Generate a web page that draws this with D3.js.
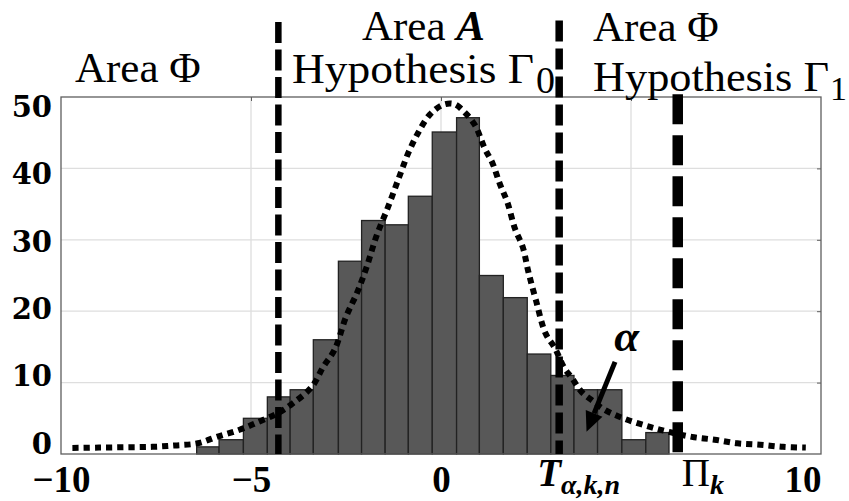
<!doctype html>
<html lang="en">
<head>
  <meta charset="utf-8">
  <title>Histogram with hypothesis areas</title>
  <style>
    body { margin:0; background:#fff; }
    svg text { font-family:"Liberation Serif", serif; fill:#000; }
    .ylab text { font-family:"DejaVu Serif", serif; font-weight:bold; font-size:29px; }
    .xlab text { font-family:"Liberation Serif", serif; font-weight:bold; font-size:37px; }
    .area { font-size:43px; }
  </style>
</head>
<body>
<svg id="chart" width="849" height="501"></svg>

<script src="https://cdn.jsdelivr.net/npm/d3@7"></script>
<script>
// histogram
var binEdges = [-6.43, -5.84, -5.2, -4.57, -3.97, -3.36, -2.70, -2.09, -1.47, -0.86, -0.23,
                0.41, 1.01, 1.64, 2.27, 2.89, 3.5, 4.12, 4.76, 5.39, 6.0];
var counts = [1, 2, 5, 8, 9, 16, 27, 32.7, 32.1, 36.1, 45.1, 47.1, 25, 21.9, 14, 11, 9, 9, 2, 3];

// fitted density (dotted)
var curveX = [-9.7, -9.0, -8.3, -7.6, -7.0, -6.4, -5.9, -5.3, -4.8, -4.3, -3.9, -3.4, -3.1, -2.8,
              -2.5, -2.2, -1.95, -1.7, -1.4, -1.1, -0.85, -0.6, -0.3, 0.05, 0.35, 0.65, 0.9, 1.15,
              1.35, 1.55, 1.75, 1.95, 2.15, 2.3, 2.5, 2.75, 3.0, 3.25, 3.45, 3.7, 4.0, 4.3, 4.9,
              5.5, 6.0, 6.6, 7.2, 7.8, 8.4, 9.0, 9.6];
var curveY = [0.85, 0.9, 0.95, 1.0, 1.2, 1.5, 2.4, 3.4, 4.5, 5.7, 7.1, 9.4, 12.2, 14.6,
              19.2, 22.7, 26.3, 30.5, 34.5, 38.8, 42.3, 45.0, 47.5, 48.9, 49.0, 47.7, 46.0, 42.8,
              40.8, 37.8, 35.2, 31.5, 29.0, 25.5, 21.5, 16.9, 14.8, 12.0, 10.6, 8.7, 7.4, 6.2, 4.8,
              3.8, 3.1, 2.4, 2.0, 1.5, 1.3, 1.0, 0.9];

// vertical threshold lines: x position and top (in y units)
var vlineX = [-4.28, 3.11, 6.23];
var vlineTop = [60.5, 60.7, 50.4];

// alpha arrow: from (x,y) to (x,y)
var arrowFrom = [4.58, 12.9];
var arrowTo = [3.83, 3.1];
var alphaAt = [4.89, 14.4];

var xTicks = [-10, -5, 0, 10];
var yTicks = [0, 10, 20, 30, 40, 50];
var xGrid = [-5, 0, 5];
var yGrid = [10, 20, 30, 40];

var svg = d3.select("#chart");

var x = d3.scaleLinear().domain([-10, 10]).range([61, 821]);
var y = d3.scaleLinear().domain([0, 50]).range([454, 97]);
// the tick labels in the figure sit on a slightly tighter spacing than the grid
var yLab = d3.scaleLinear().domain([0, 50]).range([444, 107]);

// grid
svg.append("g").selectAll("line").data(xGrid).enter().append("line")
  .attr("x1", d => x(d)).attr("x2", d => x(d))
  .attr("y1", y(0)).attr("y2", y(50))
  .attr("stroke", "#dedede").attr("stroke-width", 1.3);
svg.append("g").selectAll("line").data(yGrid).enter().append("line")
  .attr("x1", x(-10)).attr("x2", x(10))
  .attr("y1", d => y(d)).attr("y2", d => y(d))
  .attr("stroke", "#dedede").attr("stroke-width", 1.3);

// bars
svg.append("g").selectAll("rect").data(counts).enter().append("rect")
  .attr("x", (d, i) => x(binEdges[i]))
  .attr("width", (d, i) => x(binEdges[i + 1]) - x(binEdges[i]))
  .attr("y", d => y(d))
  .attr("height", d => y(0) - y(d))
  .attr("fill", "#585858")
  .attr("stroke", "#222").attr("stroke-width", 1.3);

// axes box + inner ticks
svg.append("rect")
  .attr("x", x(-10)).attr("y", y(50))
  .attr("width", x(10) - x(-10)).attr("height", y(0) - y(50))
  .attr("fill", "none").attr("stroke", "#5e5e5e").attr("stroke-width", 1.3);
svg.append("g").attr("transform", "translate(0," + y(50) + ")")
  .call(d3.axisTop(x).tickValues(xGrid).tickSize(-4).tickFormat(""))
  .call(g => g.select(".domain").remove())
  .selectAll("line").attr("stroke", "#5e5e5e");
svg.append("g").attr("transform", "translate(" + x(10) + ",0)")
  .call(d3.axisRight(y).tickValues(yGrid).tickSize(-4).tickFormat(""))
  .call(g => g.select(".domain").remove())
  .selectAll("line").attr("stroke", "#5e5e5e");

// tick labels
svg.append("g").attr("class", "ylab")
  .attr("transform", "translate(52,0)")
  .call(d3.axisLeft(yLab).tickValues(yTicks).tickSize(0).tickPadding(0))
  .call(g => g.select(".domain").remove())
  .selectAll("text").attr("font-family", null).attr("font-size", null);

var xa = svg.append("g").attr("class", "xlab")
  .attr("transform", "translate(0," + y(0) + ")")
  .call(d3.axisBottom(x).tickValues(xTicks).tickSize(0).tickPadding(12))
  .call(g => g.select(".domain").remove());
xa.selectAll("text").attr("font-family", null).attr("font-size", null);
xa.selectAll(".tick").filter(d => d === 10).select("text").attr("text-anchor", "end");

// dotted density curve
var line = d3.line().x((d, i) => x(curveX[i])).y(d => y(d)).curve(d3.curveCatmullRom);
svg.append("path").datum(curveY)
  .attr("d", line)
  .attr("fill", "none").attr("stroke", "#000")
  .attr("stroke-width", 6).attr("stroke-dasharray", "6.2,5");

// vertical dashed lines
var vStyle = [{w: 6.5, dash: "21,6.5"}, {w: 7.5, dash: "21,7"}, {w: 10.5, dash: "30,11"}];
svg.append("g").selectAll("line").data(vlineX).enter().append("line")
  .attr("x1", d => x(d)).attr("x2", d => x(d))
  .attr("y1", (d, i) => y(vlineTop[i])).attr("y2", y(0))
  .attr("stroke", "#000")
  .attr("stroke-width", (d, i) => vStyle[i].w)
  .attr("stroke-dasharray", (d, i) => vStyle[i].dash);

// alpha arrow
var ax1 = x(arrowFrom[0]), ay1 = y(arrowFrom[1]), ax2 = x(arrowTo[0]), ay2 = y(arrowTo[1]);
var ang = Math.atan2(ay2 - ay1, ax2 - ax1), hl = 20, hw = 9;
var bx = ax2 - hl * Math.cos(ang), by = ay2 - hl * Math.sin(ang);
svg.append("line")
  .attr("x1", ax1).attr("y1", ay1).attr("x2", bx).attr("y2", by)
  .attr("stroke", "#000").attr("stroke-width", 5);
svg.append("path")
  .attr("d", "M" + ax2 + "," + ay2 +
    "L" + (bx + hw * Math.sin(ang)) + "," + (by - hw * Math.cos(ang)) +
    "L" + (bx - hw * Math.sin(ang)) + "," + (by + hw * Math.cos(ang)) + "Z")
  .attr("fill", "#000");
svg.append("text")
  .attr("x", x(alphaAt[0])).attr("y", y(alphaAt[1]))
  .attr("text-anchor", "middle")
  .attr("font-size", 45).attr("font-weight", "bold").attr("font-style", "italic")
  .text("α");

// area annotations
svg.append("text").attr("class", "area").attr("x", 75).attr("y", 82).text("Area Φ");

var tA = svg.append("text").attr("class", "area").attr("x", 362).attr("y", 40);
tA.append("tspan").text("Area ");
tA.append("tspan").attr("font-weight", "bold").attr("font-style", "italic").text("A");

svg.append("text").attr("class", "area").attr("x", 292).attr("y", 83)
  .attr("textLength", 242).attr("lengthAdjust", "spacingAndGlyphs").text("Hypothesis Γ");
svg.append("text").attr("x", 536).attr("y", 93).attr("font-size", 38).text("0");

svg.append("text").attr("class", "area").attr("x", 593).attr("y", 90.5)
  .attr("textLength", 236).attr("lengthAdjust", "spacingAndGlyphs").text("Hypothesis Γ");
svg.append("text").attr("x", 830).attr("y", 100).attr("font-size", 34).text("1");

svg.append("text").attr("class", "area").attr("x", 593).attr("y", 41).text("Area Φ");

// threshold labels under the axis
var tT = svg.append("text").attr("x", x(vlineX[1]) - 22).attr("y", 486)
  .attr("font-weight", "bold").attr("font-style", "italic").attr("font-size", 39);
tT.append("tspan").text("T");
tT.append("tspan").attr("font-size", 28).attr("dy", 8).text("α,k,n");

var tP = svg.append("text").attr("x", x(vlineX[2]) + 4).attr("y", 486).attr("font-size", 39);
tP.append("tspan").text("Π");
tP.append("tspan").attr("font-size", 28).attr("dy", 8)
  .attr("font-weight", "bold").attr("font-style", "italic").text("k");
</script>
</body>
</html>
